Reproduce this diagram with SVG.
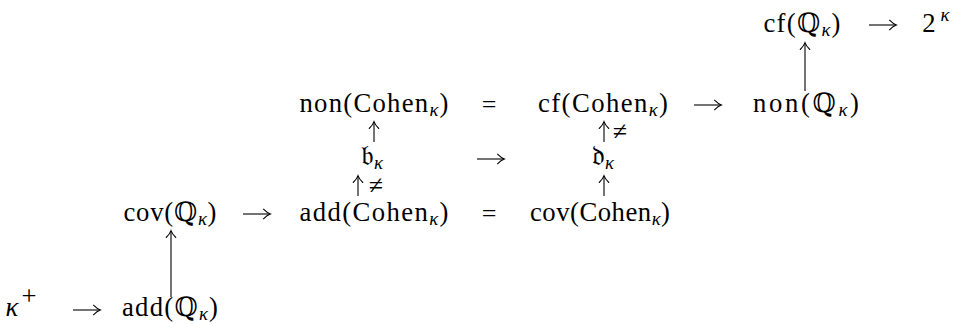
<svg xmlns="http://www.w3.org/2000/svg" width="960" height="324" viewBox="0 0 960 324">
  <defs>
    <marker id="ah" markerUnits="userSpaceOnUse" markerWidth="14" markerHeight="14" viewBox="-8 -7 10 14" refX="0" refY="0" orient="auto" overflow="visible">
      <path d="M-6.5,-4.8 Q-3,-1.2 0.4,0 Q-3,1.2 -6.5,4.8" fill="none" stroke="#000" stroke-width="1.05" stroke-linecap="round"/>
    </marker>
    <style>
      .t { font-family: "Liberation Serif", "DejaVu Serif", serif; font-size: 26.7px; fill: #000; text-anchor: middle; }
      .k { font-style: italic; font-size: 18.7px; }
      .rel { font-size: 26px; }
      .fr { font-size: 28px; }
      .ar { stroke: #000; stroke-width: 1.1; fill: none; marker-end: url(#ah); }
    </style>
  </defs>
  <rect x="0" y="0" width="960" height="324" fill="#fff"/>

  <g id="connectors">
    <!-- horizontal arrows -->
    <path class="ar" d="M869,25 H896"/>
    <path class="ar" d="M694,105 H721"/>
    <path class="ar" d="M477,159 H504"/>
    <path class="ar" d="M243,214 H270"/>
    <path class="ar" d="M73,310 H100"/>
    <!-- long vertical arrows -->
    <path class="ar" d="M805,91 V43"/>
    <path class="ar" d="M171,297 V231"/>
    <!-- short vertical arrows -->
    <path class="ar" d="M374,142 V122"/>
    <path class="ar" d="M604,142 V122"/>
    <path class="ar" d="M358,196 V176"/>
    <path class="ar" d="M604,196 V176"/>
    <!-- relation labels -->
    <text class="t rel" x="489" y="113">=</text>
    <text class="t rel" x="489" y="222">=</text>
    <text class="t rel" x="620" y="140">≠</text>
    <text class="t rel" x="376" y="194">≠</text>
  </g>

  <g id="n-cfQ"><text class="t" x="802" y="32" textLength="77" lengthAdjust="spacing">cf(ℚ<tspan class="k" dy="4">κ</tspan><tspan dy="-4">)</tspan></text></g>
  <g id="n-2k"><text class="t" x="929" y="32">2</text><text class="t k" x="945" y="21">κ</text></g>

  <g id="n-nonC"><text class="t" x="374" y="112" textLength="149" lengthAdjust="spacing">non(Cohen<tspan class="k" dy="4">κ</tspan><tspan dy="-4">)</tspan></text></g>
  <g id="n-cfC"><text class="t" x="603" y="112" textLength="130" lengthAdjust="spacing">cf(Cohen<tspan class="k" dy="4">κ</tspan><tspan dy="-4">)</tspan></text></g>
  <g id="n-nonQ"><text class="t" x="806" y="112" textLength="106" lengthAdjust="spacing">non(ℚ<tspan class="k" dy="4">κ</tspan><tspan dy="-4">)</tspan></text></g>

  <g id="n-b"><text class="t" x="372" y="165"><tspan class="fr">𝔟</tspan><tspan class="k" dy="4">κ</tspan></text></g>
  <g id="n-d"><text class="t" x="603" y="165"><tspan class="fr">𝔡</tspan><tspan class="k" dy="4">κ</tspan></text></g>

  <g id="n-covQ"><text class="t" x="170" y="221" textLength="93" lengthAdjust="spacing">cov(ℚ<tspan class="k" dy="4">κ</tspan><tspan dy="-4">)</tspan></text></g>
  <g id="n-addC"><text class="t" x="374" y="221" textLength="149" lengthAdjust="spacing">add(Cohen<tspan class="k" dy="4">κ</tspan><tspan dy="-4">)</tspan></text></g>
  <g id="n-covC"><text class="t" x="600" y="221" textLength="140" lengthAdjust="spacing">cov(Cohen<tspan class="k" dy="4">κ</tspan><tspan dy="-4">)</tspan></text></g>

  <g id="n-kplus"><text class="t" x="12" y="316" font-style="italic">κ</text><text class="t" x="29" y="305" font-size="18.7">+</text></g>
  <g id="n-addQ"><text class="t" x="170" y="316" textLength="96" lengthAdjust="spacing">add(ℚ<tspan class="k" dy="4">κ</tspan><tspan dy="-4">)</tspan></text></g>
</svg>
